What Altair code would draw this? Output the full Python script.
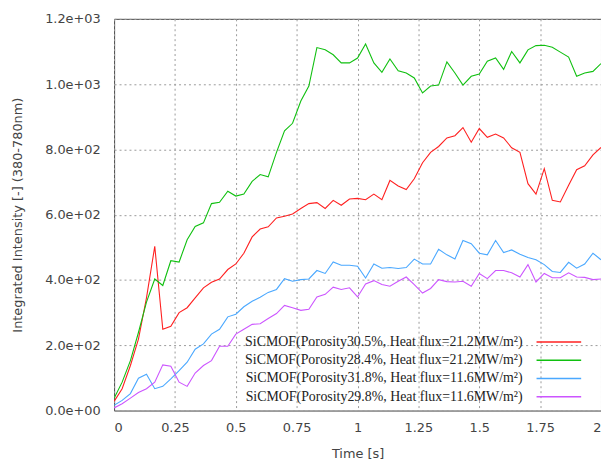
import altair as alt
import pandas as pd

time_s = [0.000, 0.033, 0.067, 0.100, 0.133, 0.167, 0.200, 0.233, 0.267, 0.300,
          0.333, 0.367, 0.400, 0.433, 0.467, 0.500, 0.533, 0.567, 0.600, 0.633,
          0.667, 0.700, 0.733, 0.767, 0.800, 0.833, 0.867, 0.900, 0.933, 0.967,
          1.000, 1.033, 1.067, 1.100, 1.133, 1.167, 1.200, 1.233, 1.267, 1.300,
          1.333, 1.367, 1.400, 1.433, 1.467, 1.500, 1.533, 1.567, 1.600, 1.633,
          1.667, 1.700, 1.733, 1.767, 1.800, 1.833, 1.867, 1.900, 1.933, 1.967,
          2.000]

red = [28, 67, 138, 219, 345, 503, 249, 258, 300, 315,
       345, 376, 393, 403, 432, 449, 482, 532, 556, 563,
       590, 595, 602, 619, 634, 637, 619, 644, 629, 648,
       650, 646, 663, 646, 705, 688, 677, 710, 759, 791,
       809, 835, 842, 867, 822, 864, 837, 847, 835, 805,
       791, 695, 663, 741, 644, 639, 690, 738, 750, 783,
       806]

green = [38, 87, 153, 239, 332, 403, 383, 459, 455, 523,
         564, 575, 634, 638, 672, 657, 663, 702, 723, 716,
         791, 857, 880, 948, 994, 1112, 1105, 1090, 1065, 1065,
         1080, 1123, 1065, 1036, 1077, 1041, 1034, 1019, 973, 994,
         997, 1068, 1034, 997, 1024, 1031, 1070, 1080, 1045, 1100,
         1065, 1105, 1118, 1119, 1113, 1098, 1083, 1024, 1034, 1039,
         1063]

blue = [16, 31, 52, 99, 111, 67, 74, 97, 122, 148,
        188, 204, 234, 249, 287, 295, 318, 335, 347, 362,
        371, 404, 396, 401, 403, 429, 420, 455, 445, 445,
        442, 406, 449, 436, 438, 435, 438, 464, 449, 449,
        494, 477, 464, 521, 511, 482, 477, 521, 484, 492,
        479, 469, 462, 447, 426, 423, 454, 436, 449, 482,
        462]

purple = [8, 21, 38, 55, 67, 87, 140, 136, 87, 74,
          115, 138, 153, 197, 197, 234, 249, 264, 266, 282,
          297, 322, 315, 307, 310, 348, 356, 378, 371, 376,
          348, 388, 398, 386, 381, 396, 409, 386, 360, 374,
          401, 395, 394, 396, 381, 420, 404, 429, 429, 422,
          409, 447, 394, 420, 407, 407, 422, 409, 408, 401,
          403]

series_names = [
    "SiCMOF(Porosity30.5%, Heat flux=21.2MW/m²)",
    "SiCMOF(Porosity28.4%, Heat flux=21.2MW/m²)",
    "SiCMOF(Porosity31.8%, Heat flux=11.6MW/m²)",
    "SiCMOF(Porosity29.8%, Heat flux=11.6MW/m²)",
]
series_colors = ["#ff2020", "#10c010", "#4aa8ff", "#cc55ff"]
x_ticks = [0, 0.25, 0.5, 0.75, 1, 1.25, 1.5, 1.75, 2]
y_ticks = [0, 200, 400, 600, 800, 1000, 1200]

rows = []
for name, vals in zip(series_names, [red, green, blue, purple]):
    for t, v in zip(time_s, vals):
        rows.append({"t": t, "v": v, "series": name})
df = pd.DataFrame(rows)
legend_df = pd.DataFrame({"series": series_names, "rank": list(range(len(series_names)))})

font = "DejaVu Sans"
color_scale = alt.Scale(domain=series_names, range=series_colors)

lines = alt.Chart(df).mark_line(strokeWidth=1.1, clip=True).encode(
    x=alt.X("t:Q", title="Time [s]",
            scale=alt.Scale(domain=[0, 2], nice=False, zero=False),
            axis=alt.Axis(values=x_ticks, labelExpr="datum.value", tickSize=0,
                          labelPadding=11, titlePadding=13, domain=False,
                          grid=True, gridDash=[2, 3], gridColor="#9a9a9a")),
    y=alt.Y("v:Q", title="Integrated Intensity [-] (380-780nm)",
            scale=alt.Scale(domain=[0, 1200], nice=False),
            axis=alt.Axis(values=y_ticks,
                          labelExpr="replace(format(datum.value, '.1e'), 'e+', 'e+0')",
                          tickSize=0, labelPadding=14, titlePadding=20, domain=False,
                          grid=True, gridDash=[2, 3], gridColor="#9a9a9a")),
    color=alt.Color("series:N", scale=color_scale, legend=None),
)

legend_y = alt.Y("rank:Q", scale=alt.Scale(domain=[0, 3], range=[326, 381]), axis=None)

legend_text = alt.Chart(legend_df).mark_text(
    align="right", baseline="middle", font="Liberation Serif", fontSize=14, color="#222"
).encode(
    x=alt.value(412), y=legend_y, text="series:N"
)

legend_lines = alt.Chart(legend_df).mark_rule(strokeWidth=1.5).encode(
    x=alt.value(426), x2=alt.value(471), y=legend_y,
    color=alt.Color("series:N", scale=color_scale, legend=None),
)

chart = alt.layer(lines, legend_text, legend_lines).resolve_scale(
    y="independent"
).properties(
    width=491, height=395,
    autosize=alt.AutoSizeParams(type="none"),
    padding={"left": 107, "top": 9, "right": 0, "bottom": 54},
).configure_view(
    stroke="#444", strokeWidth=1
).configure_axis(
    labelFont=font, titleFont=font, labelFontSize=13, titleFontSize=13,
    labelColor="#444", titleColor="#444", titleFontWeight="normal"
)

chart.save("out.html", embed_options={"renderer": "svg", "actions": False})
